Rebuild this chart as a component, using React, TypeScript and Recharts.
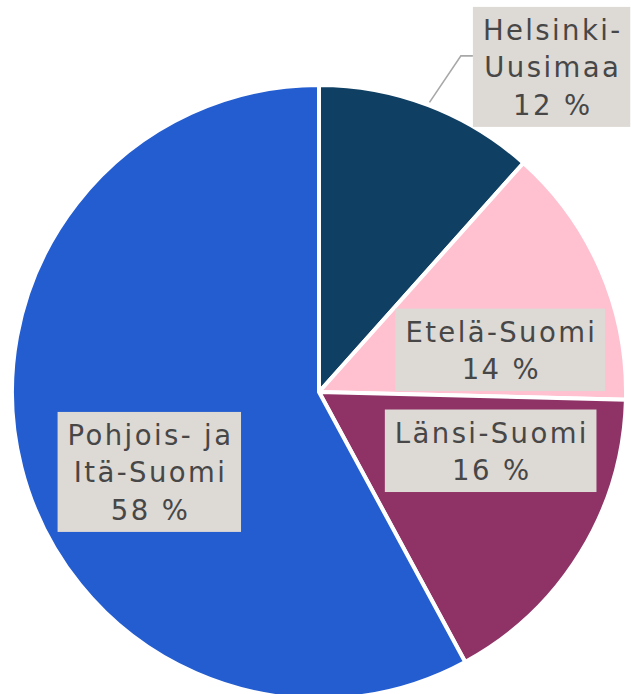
import React from "react";
import { PieChart, Pie, Cell } from "recharts";

// Categories (line breaks as shown in the labels)
const categories = ["Helsinki-\nUusimaa", "Etelä-Suomi", "Länsi-Suomi", "Pohjois- ja\nItä-Suomi"];
// Slice sizes (share of total, %)
const values = [11.6, 13.8, 16.7, 57.9];
// Percent labels as printed on the chart
const percentLabels = [12, 14, 16, 58];
const colors = ["#0f3f62", "#ffc0d0", "#8f3366", "#235dcf"];

const data = categories.map((c, i) => ({ name: c, value: values[i], pct: percentLabels[i] }));

// label layout: radius factor (of outer radius) and angular shift (deg, clockwise) from slice mid angle
const labelLayout = [
  { rf: 1.302, shift: 14.7, leader: true },
  { rf: 0.606, shift: 10.3, leader: false },
  { rf: 0.591, shift: -12.6, leader: false },
  { rf: 0.611, shift: -11.0, leader: false },
];

const FONT_NAME = "DejaVu Sans";
const FONT = "'DejaVu Sans', sans-serif";
const FONT_SIZE = 27.5;
const LETTER = 2.4;
const LINE_H = 37.5;

let ctx: CanvasRenderingContext2D | null = null;
function measure(t: string): number {
  if (!ctx) {
    const c = document.createElement("canvas");
    ctx = c.getContext("2d");
  }
  if (!ctx) return t.length * FONT_SIZE * 0.6;
  ctx.font = `${FONT_SIZE}px '${FONT_NAME}'`;
  return ctx.measureText(t).width + LETTER * (t.length - 1);
}

const renderLabel = (props: any) => {
  const { cx, cy, midAngle, outerRadius, index } = props;
  const lay = labelLayout[index];
  const compass = 90 - midAngle + lay.shift;
  const rad = (compass * Math.PI) / 180;
  const r = outerRadius * lay.rf;
  const bx = cx + r * Math.sin(rad);
  const by = cy - r * Math.cos(rad);
  const lines = [...data[index].name.split("\n"), `${data[index].pct} %`];
  const w = Math.max(...lines.map(measure)) + 20;
  const h = 33 + (lines.length - 1) * LINE_H + 12;
  const left = bx - w / 2;
  const top = by - h / 2;
  let leader = null;
  if (lay.leader) {
    const mrad = ((90 - midAngle) * Math.PI) / 180;
    const sx = cx + (outerRadius + 3) * Math.sin(mrad);
    const sy = cy - (outerRadius + 3) * Math.cos(mrad);
    const ey = top + 49;
    leader = (
      <polyline
        points={`${sx},${sy} ${left - 12},${ey} ${left},${ey}`}
        fill="none"
        stroke="#a8a8a8"
        strokeWidth={1.6}
      />
    );
  }
  return (
    <g key={`lab-${index}`}>
      {leader}
      <rect x={left} y={top} width={w} height={h} fill="#ddd9d5" />
      {lines.map((ln, i) => (
        <text
          key={i}
          x={bx + LETTER / 2}
          y={top + 33 + i * LINE_H}
          textAnchor="middle"
          fill="#474747"
          fontFamily={FONT}
          fontSize={FONT_SIZE}
          letterSpacing={LETTER}
        >
          {ln}
        </text>
      ))}
    </g>
  );
};

export default function App() {
  return (
    <div style={{ position: "absolute", left: 0, top: 0, width: 631, height: 694, background: "#fff", overflow: "hidden" }}>
      <PieChart width={631} height={694} margin={{ top: 0, right: 0, bottom: 0, left: 0 }}>
        <Pie
          data={data}
          dataKey="value"
          nameKey="name"
          cx={319}
          cy={392}
          outerRadius={307}
          startAngle={90}
          endAngle={-270}
          stroke="#ffffff"
          strokeWidth={4}
          label={renderLabel}
          labelLine={false}
          isAnimationActive={false}
        >
          {data.map((d, i) => (
            <Cell key={i} fill={colors[i]} />
          ))}
        </Pie>
      </PieChart>
    </div>
  );
}
